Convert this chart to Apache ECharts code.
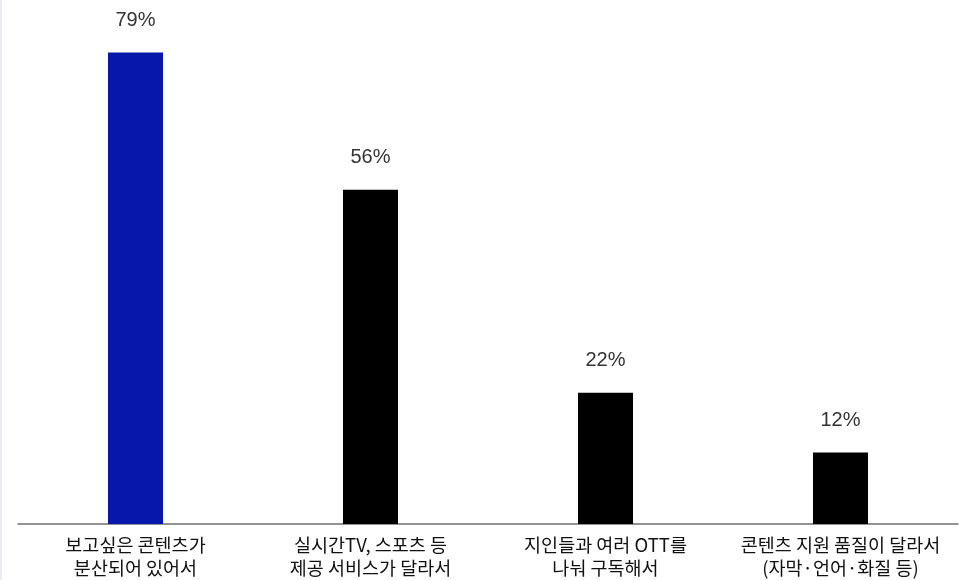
<!DOCTYPE html>
<html>
<head>
<meta charset="utf-8">
<script src="https://cdn.jsdelivr.net/npm/echarts@6/dist/echarts.min.js"></script>
<style>
  html, body { margin: 0; padding: 0; background: #ffffff; }
  #chart { width: 968px; height: 580px; }
</style>
</head>
<body>
<div id="chart"></div>
<script>
// Reasons for subscribing to multiple OTT services (%)
const categories = [
  '보고싶은 콘텐츠가\n분산되어 있어서',
  '실시간TV, 스포츠 등\n제공 서비스가 달라서',
  '지인들과 여러 OTT를\n나눠 구독해서',
  '콘텐츠 지원 품질이 달라서\n(자막·언어·화질 등)'
];
const values = [79, 56, 22, 12];
const barColors = ['#0617a9', '#000000', '#000000', '#000000'];

const CJK_FONT = '"Noto Sans CJK KR", "Noto Sans", sans-serif';
const NUM_FONT = '"Liberation Sans", Arial, sans-serif';

const chart = echarts.init(document.getElementById('chart'), null, { renderer: 'canvas' });

chart.setOption({
  animation: false,
  backgroundColor: '#ffffff',
  grid: { left: 18, right: 10, top: 46.5, bottom: 56, containLabel: false },
  xAxis: {
    type: 'category',
    data: categories,
    axisLine: { show: true, lineStyle: { color: '#707070', width: 1.5 } },
    axisTick: { show: false },
    axisLabel: {
      interval: 0,
      margin: 9,
      color: '#111111',
      fontFamily: CJK_FONT,
      fontSize: 18.5,
      lineHeight: 23
    }
  },
  yAxis: {
    type: 'value',
    min: 0,
    max: 80,
    show: false,
    splitLine: { show: false }
  },
  series: [{
    type: 'bar',
    barWidth: 55,
    data: values.map((v, i) => ({ value: v, itemStyle: { color: barColors[i] } })),
    label: {
      show: true,
      position: 'top',
      distance: 22,
      formatter: '{c}%',
      color: '#333333',
      fontFamily: NUM_FONT,
      fontSize: 20
    }
  }],
  graphic: [{
    type: 'rect',
    left: 0,
    top: 0,
    shape: { width: 2, height: 580 },
    style: { fill: '#ebebf2' },
    silent: true
  }]
});
</script>
</body>
</html>
